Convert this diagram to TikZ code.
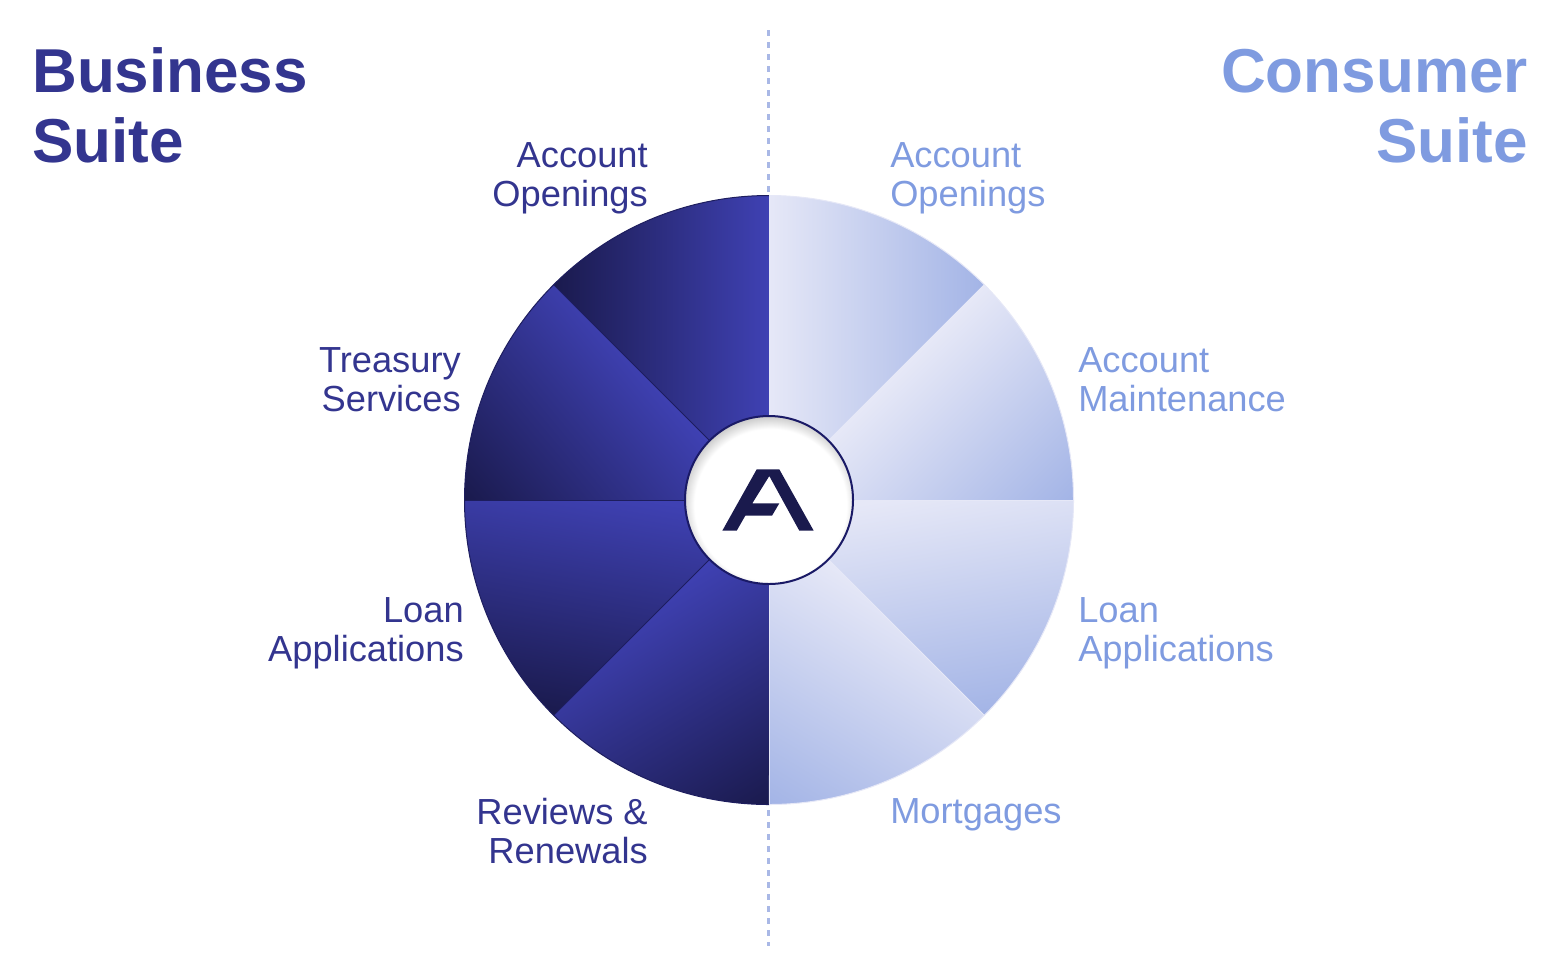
\documentclass[tikz,border=0pt]{standalone}
\usepackage{fontspec}
\setmainfont{Liberation Sans}
\usepackage{tikz}

\definecolor{bizdark}{HTML}{1A1A4D}
\definecolor{bizlight}{HTML}{3F41B3}
\definecolor{bizseam}{HTML}{1D1D5E}
\definecolor{bizink}{HTML}{33358F}
\definecolor{condark}{HTML}{A3B4E6}
\definecolor{conlight}{HTML}{E6E8F7}
\definecolor{conink}{HTML}{7F9BE0}
\definecolor{hubring}{HTML}{1A1A66}
\definecolor{hubshade}{HTML}{BEBEBE}
\definecolor{logoink}{HTML}{1A1A4D}
\definecolor{dividerink}{HTML}{A9B8E6}

\pgfdeclarehorizontalshading{bizfade}{100bp}{color(0bp)=(bizdark); color(37.5bp)=(bizdark); color(62.5bp)=(bizlight); color(100bp)=(bizlight)}
\pgfdeclarehorizontalshading{confade}{100bp}{color(0bp)=(condark); color(37.5bp)=(condark); color(62.5bp)=(conlight); color(100bp)=(conlight)}
\pgfdeclareradialshading{hubglow}{\pgfpointorigin}{color(0bp)=(white); color(19bp)=(white); color(23bp)=(hubshade); color(50bp)=(hubshade)}

\tikzset{
  suitehead/.style={inner sep=0pt,font=\fontsize{46.5}{52.5}\selectfont\bfseries},
  wedgelabel/.style={inner sep=0pt,font=\fontsize{27.2}{29.25}\selectfont},
  divider/.style={color=dividerink,line width=2.25pt,dash pattern={on 4.5pt off 4.5pt}},
  bizedge/.style={color=bizseam,line width=0.75pt},
  conedge/.style={color=conlight,line width=0.75pt}
}

\begin{document}
\begin{tikzpicture}[x=0.75pt,y=0.75pt,yscale=-1,xscale=1]
\useasboundingbox (0,0) rectangle (1558,976);

\coordinate (hub) at (769,500);
\coordinate (rimN) at (769,195.5);
\coordinate (rimS) at (769,804.5);
\coordinate (rimW) at (464.5,500);
\coordinate (rimE) at (1073.5,500);
\coordinate (rimNW) at (553.7,284.7);
\coordinate (rimNE) at (984.3,284.7);
\coordinate (rimSW) at (553.7,715.3);
\coordinate (rimSE) at (984.3,715.3);
\coordinate (dividerTop) at (768.5,30);
\coordinate (dividerEnd) at (768.5,946);

%Straight Lines
\draw [divider] (dividerTop) -- (dividerEnd);

%Shape: Sector
\begin{scope}
\clip (hub) -- (rimN) arc[start angle=-90,end angle=-135,radius=304.5] -- cycle;
\shade [shading=bizfade,shading angle=0] (661,350) +(-215,-215) rectangle +(215,215);
\end{scope}
%Shape: Sector
\begin{scope}
\clip (hub) -- (rimNW) arc[start angle=-135,end angle=-180,radius=304.5] -- cycle;
\shade [shading=bizfade,shading angle=40] (564,443) +(-225,-225) rectangle +(225,225);
\end{scope}
%Shape: Sector
\begin{scope}
\clip (hub) -- (rimW) arc[start angle=180,end angle=135,radius=304.5] -- cycle;
\shade [shading=bizfade,shading angle=80] (642,614) +(-230,-230) rectangle +(230,230);
\end{scope}
%Shape: Sector
\begin{scope}
\clip (hub) -- (rimSW) arc[start angle=135,end angle=90,radius=304.5] -- cycle;
\shade [shading=bizfade,shading angle=121] (707,702) +(-241,-241) rectangle +(241,241);
\end{scope}
%Shape: Sector
\begin{scope}
\clip (hub) -- (rimN) arc[start angle=-90,end angle=-45,radius=304.5] -- cycle;
\shade [shading=confade,shading angle=180] (876,350) +(-215,-215) rectangle +(215,215);
\end{scope}
%Shape: Sector
\begin{scope}
\clip (hub) -- (rimNE) arc[start angle=-45,end angle=0,radius=304.5] -- cycle;
\shade [shading=confade,shading angle=135] (930,491) +(-215,-215) rectangle +(215,215);
\end{scope}
%Shape: Sector
\begin{scope}
\clip (hub) -- (rimE) arc[start angle=0,end angle=45,radius=304.5] -- cycle;
\shade [shading=confade,shading angle=100] (896,614) +(-230,-230) rectangle +(230,230);
\end{scope}
%Shape: Sector
\begin{scope}
\clip (hub) -- (rimSE) arc[start angle=45,end angle=90,radius=304.5] -- cycle;
\shade [shading=confade,shading angle=59] (831,702) +(-241,-241) rectangle +(241,241);
\end{scope}

%Straight Lines
\draw [bizedge] (hub) -- (rimNW);
\draw [bizedge] (hub) -- (rimW);
\draw [bizedge] (hub) -- (rimSW);
\draw [conedge] (hub) -- (rimNE);
\draw [conedge] (hub) -- (rimE);
\draw [conedge] (hub) -- (rimSE);
\draw [conedge] (hub) -- (rimS);
%Shape: Arc
\draw [bizedge] (rimN) arc[start angle=-90,end angle=-270,radius=304.5];
\draw [conedge] (rimN) arc[start angle=-90,end angle=90,radius=304.5];

%Shape: Circle
\begin{scope}
\clip (hub) circle (84);
\shade [shading=hubglow] (770.5,505) circle (100);
\end{scope}
\draw [color=hubring,line width=1.5pt] (hub) circle (84);

%Shape: Polygon
\fill [logoink] (756.7,469.3) -- (779.3,469.3) -- (813.7,530.7) -- (799.3,530.7) -- (769.3,476) -- (752.3,503.3) -- (779.3,503.3) -- (772,515.7) -- (745.3,515.7) -- (736.7,530.7) -- (722.3,530.7) -- cycle;

% Text Node
\draw (32,47) node (bizhead) [anchor=north west,suitehead,align=left,color=bizink] {Business\\Suite};
% Text Node
\draw (1528,49) node (conhead) [anchor=north east,suitehead,align=right,color=conink] {Consumer\\Suite};
% Text Node
\draw (648,142) node (bizopen) [anchor=north east,wedgelabel,align=right,color=bizink] {Account\\Openings};
% Text Node
\draw (461,347) node (biztreasury) [anchor=north east,wedgelabel,align=right,color=bizink] {Treasury\\Services};
% Text Node
\draw (464,597) node (bizloan) [anchor=north east,wedgelabel,align=right,color=bizink] {Loan\\Applications};
% Text Node
\draw (648,798) node (bizreview) [anchor=north east,wedgelabel,align=right,color=bizink] {Reviews \&\\Renewals};
% Text Node
\draw (890,142) node (conopen) [anchor=north west,wedgelabel,align=left,color=conink] {Account\\Openings};
% Text Node
\draw (1078,347) node (conmaint) [anchor=north west,wedgelabel,align=left,color=conink] {Account\\Maintenance};
% Text Node
\draw (1078,597) node (conloan) [anchor=north west,wedgelabel,align=left,color=conink] {Loan\\Applications};
% Text Node
\draw (890,798) node (conmort) [anchor=north west,wedgelabel,align=left,color=conink] {Mortgages};
\end{tikzpicture}
\end{document}
